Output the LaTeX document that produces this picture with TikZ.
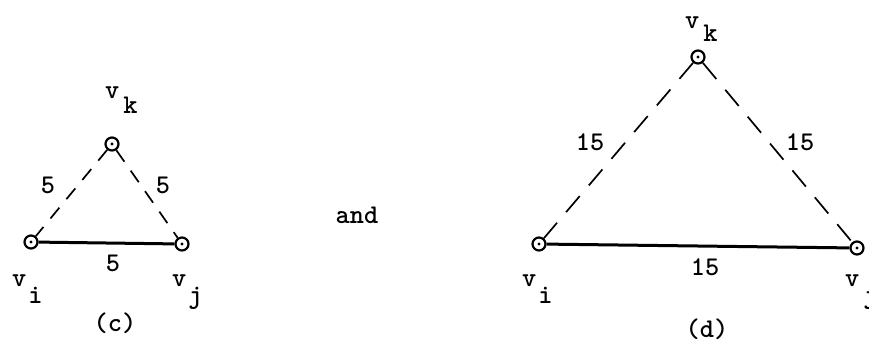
\documentclass[tikz,border=0pt]{standalone}
\begin{document}
\begin{tikzpicture}[x=1pt,y=-1pt,
  vert/.style={circle,draw,line width=2.2pt,minimum size=13pt,inner sep=0pt,
    path picture={\fill (path picture bounding box.center) circle (1.7pt);}},
  solidedge/.style={line width=3pt},
  dashc/.style={line width=1.7pt,dash pattern=on 14pt off 11pt},
  dashd/.style={line width=1.7pt,dash pattern=on 21pt off 14pt},
  txt/.style={font=\fontsize{27}{30}\ttfamily\bfseries,inner sep=0pt},
  lab/.style={txt,anchor=base west}]
\useasboundingbox (0,0) rectangle (869,343);
\clip (0,0) rectangle (869,343);
% (c)
\node[vert] (ck) at (112,144) {};
\node[vert] (ci) at (31,242) {};
\node[vert] (cj) at (182,244) {};
\draw[solidedge] (ci) -- (cj);
\draw[dashc] (ck) -- (ci);
\draw[dashc] (ck) -- (cj);
\node[txt] (c5l) at (48,185) {5};
\node[txt] (c5r) at (163,185) {5};
\node[txt] (c5b) at (113,263) {5};
\node[lab] (clk) at (105,98) {v\kern4pt\raisebox{-15pt}{k}};
\node[lab] (cli) at (12,286) {v\kern2pt\raisebox{-17pt}{i}};
\node[lab] (clj) at (172,286) {v\kern2pt\raisebox{-17pt}{j}};
\node[txt] (capc) at (115,323) {(c)};
% and
\node[txt] (and) at (357,215) {and};
% (d)
\node[vert] (dk) at (698,57) {};
\node[vert] (di) at (539,244) {};
\node[vert] (dj) at (857,248) {};
\draw[solidedge] (di) -- (dj);
\draw[dashd] (dk) -- (di);
\draw[dashd] (dk) -- (dj);
\node[txt] (d15l) at (590,142) {15};
\node[txt] (d15r) at (800,142) {15};
\node[txt] (d15b) at (705,267) {15};
\node[lab] (dlk) at (685,28) {v\kern4pt\raisebox{-13pt}{k}};
\node[lab] (dli) at (522,286) {v\kern2pt\raisebox{-17pt}{i}};
\node[lab] (dlj) at (845,286) {v\kern4pt\raisebox{-17pt}{j}};
\node[txt] (capd) at (707,329) {(d)};
\end{tikzpicture}
\end{document}
